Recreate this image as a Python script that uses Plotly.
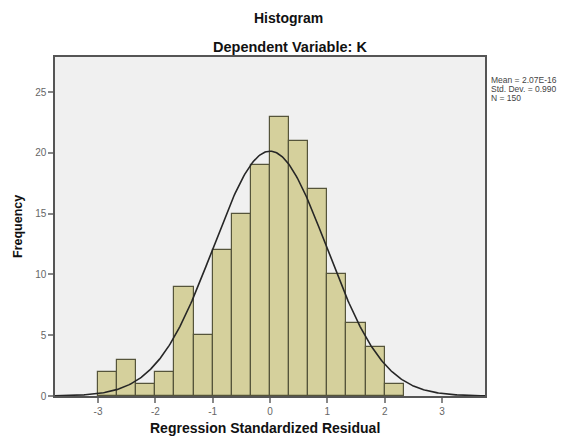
import numpy as np
import plotly.graph_objects as go

# Data
bin_left = [-3.0, -8/3, -7/3, -2.0, -5/3, -4/3, -1.0, -2/3, -1/3, 0.0, 1/3, 2/3, 1.0, 4/3, 5/3, 2.0]
bin_width = 1/3
counts = [2, 3, 1, 2, 9, 5, 12, 15, 19, 23, 21, 17, 10, 6, 4, 1]
mean_val = 2.07e-16
sd_val = 0.990
n_val = 150
x_ticks = [-3, -2, -1, 0, 1, 2, 3]
y_ticks = [0, 5, 10, 15, 20, 25]
stats_lines = ["Mean = 2.07E-16", "Std. Dev. = 0.990", "N = 150"]

centers = [b + bin_width / 2 for b in bin_left]

# Normal curve from displayed statistics
xc = np.linspace(-3.75, 3.75, 400)
yc = n_val * bin_width / (sd_val * np.sqrt(2 * np.pi)) * np.exp(-0.5 * ((xc - mean_val) / sd_val) ** 2)

fig = go.Figure()
fig.add_trace(go.Bar(
    x=centers, y=counts, width=bin_width,
    marker=dict(color="#d5d09c", line=dict(color="#55543a", width=1.2)),
    hoverinfo="x+y", showlegend=False,
))
fig.add_trace(go.Scatter(
    x=xc, y=yc, mode="lines",
    line=dict(color="#262626", width=1.6),
    hoverinfo="skip", showlegend=False,
))

font_family = "Liberation Sans, Arial, sans-serif"
fig.update_layout(
    width=581, height=436,
    margin=dict(l=47, r=104, t=49, b=48),
    paper_bgcolor="white",
    plot_bgcolor="#f0f0f0",
    bargap=0,
    font=dict(family=font_family, color="#333"),
    xaxis=dict(
        range=[-3.75, 3.75], tickvals=x_ticks, ticktext=[str(t) for t in x_ticks],
        showgrid=False, zeroline=False, automargin=False,
        showline=True, linecolor="#555", linewidth=1.5, mirror=True,
        ticks="outside", ticklen=5, tickcolor="#888", tickwidth=1.5,
        tickfont=dict(size=10, color="#666"),
    ),
    yaxis=dict(
        range=[0, 27.9], tickvals=y_ticks,
        showgrid=False, zeroline=False, automargin=False,
        showline=True, linecolor="#555", linewidth=1.5, mirror=True,
        ticks="outside", ticklen=5, tickcolor="#888", tickwidth=1.5,
        tickfont=dict(size=10, color="#666"),
    ),
)

# Axis titles
fig.add_annotation(text="<b>Regression Standardized Residual</b>", xref="paper", yref="paper",
                   x=0.488, y=0, yshift=-32, yanchor="middle", showarrow=False,
                   font=dict(size=14, color="#111"))
fig.add_annotation(text="<b>Frequency</b>", xref="paper", yref="paper", textangle=-90,
                   x=0, xshift=-37.5, y=0.5, xanchor="center", yanchor="middle", showarrow=False,
                   font=dict(size=12.5, color="#111"))

# Chart titles
fig.add_annotation(text="<b>Histogram</b>", xref="paper", yref="paper", x=0.542, y=1.0,
                   yshift=39, yanchor="middle", showarrow=False, font=dict(size=14, color="#111"))
fig.add_annotation(text="<b>Dependent Variable: K</b>", xref="paper", yref="paper", x=0.546, y=1.0,
                   yshift=10, yanchor="middle", showarrow=False, font=dict(size=14.5, color="#111"))

for i, line in enumerate(stats_lines):
    fig.add_annotation(text=line, xref="paper", yref="paper", x=1.0, xshift=4,
                       y=1.0, yshift=-23 - 9 * i, xanchor="left", yanchor="middle",
                       showarrow=False, font=dict(size=8.5, color="#444"))

fig.write_html("out.html")
